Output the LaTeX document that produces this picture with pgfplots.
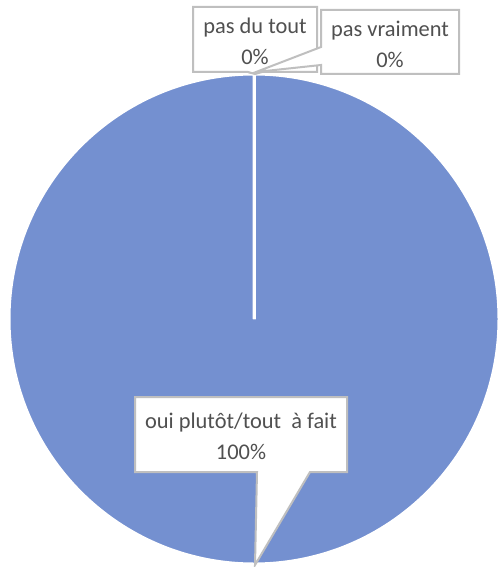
\documentclass[border=0pt]{standalone}
\usepackage{pgfplots}
\usepackage{pgfplotstable}
\pgfplotsset{compat=1.18}
\usepackage{fontspec}
\setmainfont{Carlito}

\definecolor{pieblue}{RGB}{116,144,208}
\definecolor{pieorange}{RGB}{237,125,49}
\definecolor{piegray}{RGB}{165,165,165}
\definecolor{boxline}{RGB}{191,191,191}
\definecolor{txt}{RGB}{80,80,80}

% share of each answer, in %
\pgfplotstableread[col sep=comma]{
label,value
pas du tout,0
pas vraiment,0
oui plutôt/tout à fait,100
}\piedata

\begin{document}
\begin{tikzpicture}
% slice angles, clockwise from 12 o'clock as in Excel
\pgfplotstablegetelem{0}{value}\of\piedata \let\vA\pgfplotsretval
\pgfplotstablegetelem{1}{value}\of\piedata \let\vB\pgfplotsretval
\pgfplotstablegetelem{2}{value}\of\piedata \let\vC\pgfplotsretval
\pgfmathsetmacro\tot{\vA+\vB+\vC}
\pgfmathsetmacro\aA{90}
\pgfmathsetmacro\aB{\aA-\vA/\tot*360}
\pgfmathsetmacro\aC{\aB-\vB/\tot*360}
\pgfmathsetmacro\aD{\aC-\vC/\tot*360}
\begin{axis}[
    scale only axis,
    width=498bp, height=567bp,
    xmin=0, xmax=498,
    ymin=0, ymax=567,
    y dir=reverse,
    hide axis,
    clip=true,
    font=\fontsize{22.5}{27}\selectfont,
]
    \addplot[draw=none] coordinates {(0,0) (498,567)};

    % pie
    \fill[pieblue, draw=white, line width=3bp] (axis cs:254,319) -- ++(\aC:245bp)
        arc[start angle=\aC, end angle=\aD, radius=245bp] -- cycle;
    \fill[pieorange, draw=white, line width=3bp] (axis cs:254,319) -- ++(\aA:245bp)
        arc[start angle=\aA, end angle=\aB, radius=245bp] -- cycle;
    \fill[piegray, draw=white, line width=3bp] (axis cs:254,319) -- ++(\aB:245bp)
        arc[start angle=\aB, end angle=\aC, radius=245bp] -- cycle;

    % callouts
    \filldraw[fill=white, draw=boxline, line width=2bp]
        (axis cs:193,7) -- (axis cs:317,7) -- (axis cs:317,72)
        -- (axis cs:262,72) -- (axis cs:255,74) -- (axis cs:248,72)
        -- (axis cs:193,72) -- cycle;
    \filldraw[fill=white, draw=boxline, line width=2bp]
        (axis cs:321,10) -- (axis cs:459,10) -- (axis cs:459,74)
        -- (axis cs:321,74) -- (axis cs:321,65) -- (axis cs:256,72)
        -- (axis cs:321,47) -- cycle;
    \filldraw[fill=white, draw=boxline, line width=2bp]
        (axis cs:135,397) -- (axis cs:347,397) -- (axis cs:347,472)
        -- (axis cs:310,472) -- (axis cs:255,565) -- (axis cs:257,472)
        -- (axis cs:135,472) -- cycle;

    \node[txt] at (axis cs:255,28) {pas du tout};
    \node[txt] at (axis cs:255,57) {\vA\%};
    \node[txt] at (axis cs:390,31) {pas vraiment};
    \node[txt] at (axis cs:390,60) {\vB\%};
    \node[txt] at (axis cs:241,423) {oui plutôt/tout~ à fait};
    \node[txt] at (axis cs:241,452) {\vC\%};
\end{axis}
\end{tikzpicture}
\end{document}
